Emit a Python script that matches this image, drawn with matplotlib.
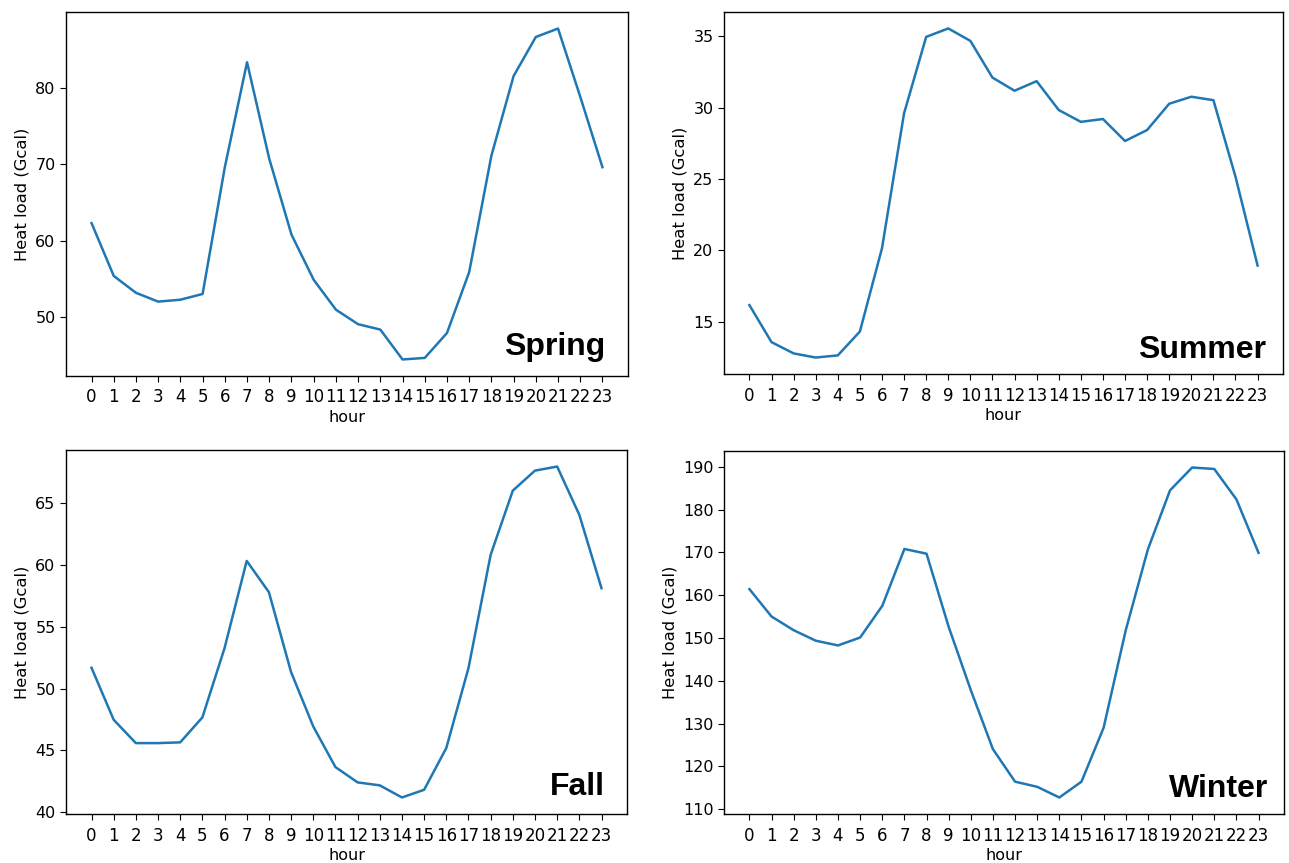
import matplotlib
matplotlib.use("Agg")
import matplotlib.pyplot as plt

hours = list(range(24))
hour_labels = [str(h) for h in hours]

spring = [62.3, 55.4, 53.2, 52.05, 52.3, 53.05, 69.6, 83.3, 70.7, 60.8, 54.9, 51.0,
          49.1, 48.4, 44.5, 44.7, 47.95, 55.9, 71.1, 81.5, 86.6, 87.7, 78.8, 69.6]
summer = [16.17, 13.58, 12.79, 12.5, 12.65, 14.32, 20.15, 29.6, 34.95, 35.54, 34.67, 32.1,
          31.18, 31.85, 29.83, 29.0, 29.2, 27.66, 28.43, 30.27, 30.76, 30.52, 25.16, 18.94]
fall = [51.68, 47.47, 45.58, 45.58, 45.64, 47.66, 53.27, 60.33, 57.8, 51.33, 46.93, 43.64,
        42.4, 42.16, 41.18, 41.8, 45.18, 51.65, 60.82, 66.02, 67.64, 67.97, 64.06, 58.12]
winter = [161.4, 155.0, 151.8, 149.35, 148.25, 150.1, 157.5, 170.8, 169.7, 152.6, 137.8, 124.0,
          116.4, 115.2, 112.7, 116.4, 129.0, 151.8, 170.7, 184.5, 189.85, 189.5, 182.4, 169.9]

seasons = ["Spring", "Summer", "Fall", "Winter"]
series = [spring, summer, fall, winter]

W, H = 1289, 863
fig = plt.figure(figsize=(W / 100, H / 100), dpi=100)

# axes rectangles in pixels: left, top, right, bottom
rects = [(66, 12, 628, 376), (724, 12, 1283, 374),
         (66, 450, 627, 814), (724, 451, 1284, 814)]
# season label anchor (right x, baseline y) in pixels
label_pos = [(605, 355), (1266, 358), (605, 795), (1268, 797)]

for (l, t, r, b), name, vals, (lx, ly) in zip(rects, seasons, series, label_pos):
    ax = fig.add_axes([l / W, (H - b) / H, (r - l) / W, (b - t) / H])
    ax.plot(hours, vals, color="#1f77b4", lw=1.8)
    ax.set_xticks(hours)
    ax.set_xticklabels(hour_labels)
    ax.tick_params(axis="x", labelsize=12, length=4, pad=5)
    ax.tick_params(axis="y", labelsize=11.5, length=4, pad=3.5)
    ax.set_xlabel("hour", fontsize=11.5, labelpad=2.5)
    ax.set_ylabel("Heat load (Gcal)", fontsize=11.8)
    for sp in ax.spines.values():
        sp.set_linewidth(1.0)
    ax.text((lx - l) / (r - l), (b - ly) / (b - t), name,
            transform=ax.transAxes, ha="right", va="baseline",
            fontsize=23, fontweight="bold", family="Liberation Sans")

fig.savefig("out.png", dpi=100)
